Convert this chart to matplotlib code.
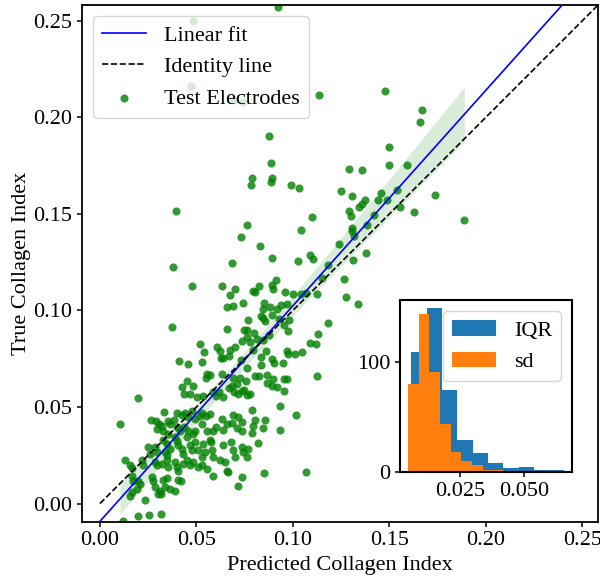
import matplotlib
matplotlib.use("Agg")
import matplotlib.pyplot as plt
import numpy as np

plt.rcParams["font.family"] = ["Liberation Serif", "DejaVu Serif"]
plt.rcParams["font.size"] = 16

# predicted / true collagen index of the test electrodes
pred = [
    0.0921, 0.0483, 0.0472, 0.0696, 0.0742,
    0.1136, 0.1477, 0.1668, 0.1656, 0.1736, 0.1888,
    0.0877, 0.0886, 0.0789, 0.0891, 0.0784, 0.0886, 0.0988, 0.1033, 0.0394, 0.0763, 0.1043, 0.0732, 0.0831,
    0.1499, 0.1499, 0.1589, 0.1292, 0.1358, 0.1249, 0.1307, 0.1454, 0.1375, 0.1358, 0.1342, 0.1442,
    0.1485, 0.1537, 0.1292, 0.1301, 0.1420, 0.1553, 0.1628, 0.1097, 0.1306, 0.1304, 0.1385, 0.1318,
    0.1240, 0.1090, 0.1104, 0.1377, 0.1311, 0.1180, 0.1150, 0.1266, 0.1123, 0.1275,
    0.1337, 0.1183, 0.1131, 0.1088, 0.1119, 0.1123,
    0.0377, 0.0685, 0.0890, 0.1026, 0.0478, 0.0631, 0.0699, 0.0672, 0.0794, 0.0803, 0.0822, 0.0890,
    0.0896, 0.0913, 0.0960, 0.1000, 0.1040, 0.1066, 0.0656, 0.0691, 0.0742, 0.0850, 0.0843, 0.0836,
    0.0881, 0.0916, 0.0967, 0.0936, 0.0768, 0.0843, 0.0856, 0.0660, 0.0746, 0.0763, 0.0799, 0.0375,
    0.0890, 0.0927, 0.0981, 0.0976, 0.0953, 0.0763, 0.0737, 0.0777, 0.0813, 0.0843, 0.0874, 0.0518,
    0.0608, 0.0537, 0.0674, 0.0699, 0.0622, 0.0627, 0.0636, 0.0670, 0.0731, 0.0793, 0.0836, 0.0860,
    0.0891, 0.0903, 0.0950, 0.0967, 0.0974, 0.1012, 0.1045, 0.0411, 0.0458, 0.0530, 0.0760, 0.0834,
    0.0864, 0.0805, 0.0822, 0.0898, 0.0953, 0.0967, 0.0632, 0.0553, 0.0549, 0.0570, 0.0688, 0.0725,
    0.0756, 0.0449, 0.0426, 0.0483, 0.0435, 0.0466, 0.0504, 0.0532, 0.0587, 0.0601, 0.0618, 0.0639,
    0.0670, 0.0682, 0.0708, 0.0694, 0.0713, 0.0734, 0.0746, 0.0763, 0.0777, 0.0955, 0.0890, 0.0919,
    0.0864,
    0.0198,
    0.0104, 0.0333, 0.0397, 0.0263, 0.0290, 0.0307, 0.0320, 0.0351, 0.0363, 0.0385, 0.0426, 0.0440,
    0.0458, 0.0475, 0.0492, 0.0518, 0.0530, 0.0548, 0.0570, 0.0294, 0.0328, 0.0354, 0.0397, 0.0415,
    0.0437, 0.0458, 0.0483, 0.0492, 0.0527, 0.0553, 0.0587, 0.0599, 0.0631, 0.0656, 0.0691, 0.0717,
    0.0682, 0.0734, 0.0639, 0.0575, 0.0708, 0.0734, 0.0250, 0.0259, 0.0285, 0.0294, 0.0328, 0.0346,
    0.0337, 0.0346, 0.0363, 0.0389, 0.0397, 0.0406, 0.0423, 0.0432, 0.0449, 0.0466, 0.0475, 0.0492,
    0.0509, 0.0527, 0.0535, 0.0544, 0.0570, 0.0579, 0.0587, 0.0639, 0.0679, 0.0691, 0.0699, 0.0734,
    0.0739, 0.0130, 0.0155, 0.0164, 0.0216, 0.0224, 0.0285, 0.0294, 0.0320, 0.0346, 0.0354, 0.0389,
    0.0397, 0.0406, 0.0432, 0.0449, 0.0466, 0.0483, 0.0509, 0.0527, 0.0553, 0.0587, 0.0622, 0.0648,
    0.0656, 0.0665, 0.0734, 0.0717, 0.0164, 0.0173, 0.0198, 0.0207, 0.0271, 0.0276, 0.0285, 0.0311,
    0.0328, 0.0346, 0.0337, 0.0363, 0.0389, 0.0406, 0.0420, 0.0164, 0.0155, 0.0190, 0.0233, 0.0316,
    0.0299, 0.0195, 0.0255, 0.0315, 0.0121,
    0.0786, 0.0803, 0.0855, 0.0843, 0.0794, 0.0933, 0.0933, 0.1016, 0.0850, 0.1067, 0.0767, 0.0762,
    0.0788, 0.0819,
]
true = [
    0.2570, 0.2499, 0.2161, 0.2088, 0.2079,
    0.2114, 0.2136, 0.2040, 0.1973, 0.1596, 0.1466,
    0.1902, 0.1763, 0.1688, 0.1688, 0.1648, 0.1665, 0.1651, 0.1632, 0.1515, 0.1440, 0.1416, 0.1380, 0.1332,
    0.1846, 0.1753, 0.1755, 0.1732, 0.1727, 0.1620, 0.1592, 0.1608, 0.1572, 0.1549, 0.1534, 0.1570,
    0.1572, 0.1623, 0.1513, 0.1491, 0.1494, 0.1535, 0.1511, 0.1483, 0.1425, 0.1413, 0.1440, 0.1383,
    0.1344, 0.1285, 0.1264, 0.1299, 0.1259, 0.1233, 0.1167, 0.1161, 0.1083, 0.1069,
    0.1033, 0.0936, 0.0876, 0.0831, 0.0824, 0.0658,
    0.1224, 0.1247, 0.1271, 0.1258, 0.1126, 0.1124, 0.1109, 0.1081, 0.1102, 0.1093, 0.1126, 0.1133,
    0.1112, 0.1159, 0.1097, 0.1087, 0.1087, 0.1092, 0.1017, 0.1021, 0.1036, 0.1038, 0.1007, 0.0969,
    0.1017, 0.1009, 0.1035, 0.1026, 0.0948, 0.0959, 0.0943, 0.0903, 0.0896, 0.0900, 0.0884, 0.0916,
    0.0978, 0.0953, 0.0948, 0.0891, 0.0922, 0.0862, 0.0839, 0.0838, 0.0853, 0.0845, 0.0874, 0.0825,
    0.0810, 0.0784, 0.0796, 0.0810, 0.0788, 0.0755, 0.0753, 0.0762, 0.0741, 0.0794, 0.0758, 0.0789,
    0.0750, 0.0727, 0.0729, 0.0789, 0.0774, 0.0776, 0.0784, 0.0737, 0.0724, 0.0732, 0.0703, 0.0715,
    0.0668, 0.0660, 0.0662, 0.0646, 0.0646, 0.0646, 0.0672, 0.0672, 0.0651, 0.0663, 0.0651, 0.0648,
    0.0634, 0.0637, 0.0605, 0.0606, 0.0568, 0.0565, 0.0551, 0.0556, 0.0579, 0.0556, 0.0577, 0.0551,
    0.0597, 0.0611, 0.0620, 0.0577, 0.0568, 0.0585, 0.0589, 0.0560, 0.0565, 0.0585, 0.0606, 0.0603,
    0.0623,
    0.0546,
    0.0413, 0.0473, 0.0468, 0.0434, 0.0426, 0.0413, 0.0399, 0.0426, 0.0413, 0.0430, 0.0456, 0.0468,
    0.0447, 0.0477, 0.0439, 0.0451, 0.0470, 0.0451, 0.0465, 0.0387, 0.0375, 0.0361, 0.0395, 0.0378,
    0.0395, 0.0378, 0.0361, 0.0375, 0.0413, 0.0378, 0.0378, 0.0395, 0.0439, 0.0413, 0.0456, 0.0447,
    0.0416, 0.0421, 0.0382, 0.0318, 0.0392, 0.0378, 0.0295, 0.0258, 0.0292, 0.0266, 0.0330, 0.0309,
    0.0266, 0.0249, 0.0283, 0.0344, 0.0326, 0.0301, 0.0283, 0.0258, 0.0344, 0.0301, 0.0275, 0.0318,
    0.0275, 0.0240, 0.0309, 0.0266, 0.0330, 0.0275, 0.0240, 0.0301, 0.0318, 0.0275, 0.0240, 0.0292,
    0.0266, 0.0223, 0.0197, 0.0185, 0.0223, 0.0197, 0.0214, 0.0197, 0.0206, 0.0223, 0.0188, 0.0214,
    0.0188, 0.0171, 0.0206, 0.0223, 0.0197, 0.0214, 0.0188, 0.0197, 0.0180, 0.0145, 0.0223, 0.0214,
    0.0171, 0.0162, 0.0136, 0.0093, 0.0145, 0.0119, 0.0119, 0.0102, 0.0136, 0.0119, 0.0088, 0.0067,
    0.0123, 0.0131, 0.0084, 0.0076, 0.0067, 0.0123, 0.0116, 0.0059, 0.0041, 0.0076, 0.0019, 0.0050,
    0.0047, -0.0062, -0.0057, -0.0053, -0.0090,
    0.0485, 0.0430, 0.0430, 0.0390, 0.0399, 0.0503, 0.0382, 0.0461, 0.0157, 0.0161, 0.0280, 0.0240,
    0.0363, 0.0311,
]

# linear fit
fit_slope = 1.116
fit_intercept = -0.0092

# inset histograms: bin edges and counts
iqr_edges = [0.0061, 0.0121, 0.0180, 0.0240, 0.0299, 0.0359, 0.0418, 0.0478, 0.0537, 0.0597, 0.0656]
iqr_counts = [109, 149, 75, 29, 17, 8, 4, 5, 2, 2]
sd_edges = [0.0047, 0.0089, 0.0130, 0.0172, 0.0214, 0.0255, 0.0297, 0.0339, 0.0380, 0.0422, 0.0464]
sd_counts = [80, 144, 91, 44, 18, 10, 6, 2, 2, 1]

lims = (-0.0093, 0.2581)
ticks = [0.00, 0.05, 0.10, 0.15, 0.20, 0.25]

x = np.array(pred)
y = np.array(true)

fig = plt.figure(figsize=(6, 5.79), dpi=100)
ax = fig.add_axes([0.1367, 0.0993, 0.86, 0.892])

ax.scatter(x, y, s=34, color="green", alpha=0.8, linewidths=0, label="Test Electrodes", zorder=2)

# 95% confidence band around the fit
xs = np.linspace(x.min(), x.max(), 100)
resid = y - (fit_intercept + fit_slope * x)
n = len(x)
s_err = np.sqrt(np.sum(resid ** 2) / (n - 2))
half = 1.97 * s_err * np.sqrt(1.0 / n + (xs - x.mean()) ** 2 / np.sum((x - x.mean()) ** 2))
yfit = fit_intercept + fit_slope * xs
ax.fill_between(xs, yfit - half, yfit + half, color="green", alpha=0.15, linewidth=0, zorder=3)

line_x = np.array([0.0, 0.27])
ax.plot(line_x, fit_intercept + fit_slope * line_x, color="blue", linewidth=1.2, label="Linear fit", zorder=4)
ax.plot(line_x, line_x, color="black", linestyle="--", linewidth=1.2, label="Identity line", zorder=4)

ax.set_xlim(lims)
ax.set_ylim(lims)
ax.set_xticks(ticks)
ax.set_yticks(ticks)
ax.set_xticklabels([f"{t:.2f}" for t in ticks])
ax.set_yticklabels([f"{t:.2f}" for t in ticks])
ax.set_xlabel("Predicted Collagen Index")
ax.set_ylabel("True Collagen Index", labelpad=2)
for sp in ax.spines.values():
    sp.set_linewidth(1.3)
ax.tick_params(width=1.1)

handles, labels = ax.get_legend_handles_labels()
order = [labels.index("Linear fit"), labels.index("Identity line"), labels.index("Test Electrodes")]
ax.legend([handles[i] for i in order], [labels[i] for i in order], loc="upper left", fontsize=16)

# inset with the spread histograms
ins = fig.add_axes([0.6667, 0.1848, 0.2867, 0.297])
ins.hist(iqr_edges[:-1], bins=iqr_edges, weights=iqr_counts, color="#1f77b4", label="IQR")
ins.hist(sd_edges[:-1], bins=sd_edges, weights=sd_counts, color="#ff7f0e", label="sd")
ins.set_xticks([0.025, 0.050])
ins.set_xticklabels(["0.025", "0.050"])
ins.set_yticks([0, 100])
for sp in ins.spines.values():
    sp.set_linewidth(1.5)
ins.tick_params(width=1.1)
ins.legend(loc="upper right", fontsize=16)

fig.savefig("out.png", dpi=100)
